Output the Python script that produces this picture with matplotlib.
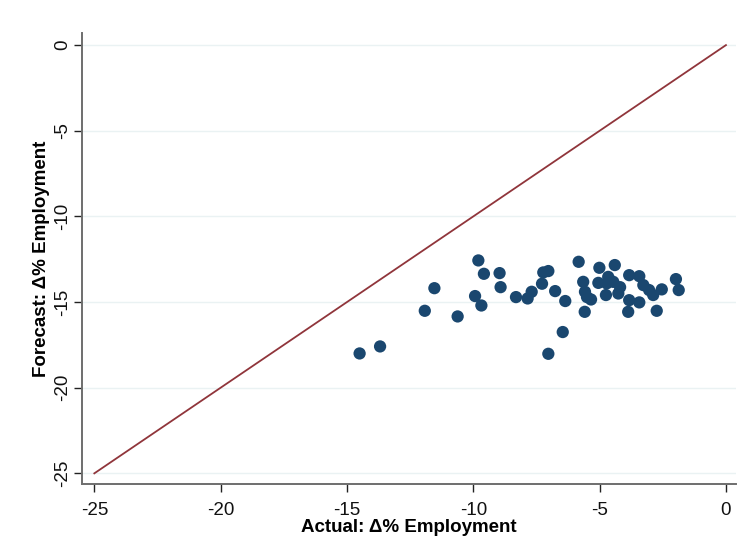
import matplotlib
matplotlib.use("Agg")
import matplotlib.pyplot as plt

plt.rcParams['font.family'] = ['Liberation Sans', 'DejaVu Sans']
plt.rcParams['axes.unicode_minus'] = False

actual = [-14.50, -13.69, -11.92, -11.54, -10.62, -9.80, -9.58, -9.93, -9.68, -8.96,
          -8.92, -8.31, -7.85, -7.69, -7.28, -7.23, -7.03, -6.76, -6.36, -6.46,
          -7.03, -5.83, -5.65, -5.58, -5.34, -5.59, -5.01, -5.05, -4.72, -4.75,
          -4.40, -4.66, -4.46, -4.26, -3.83, -3.43, -3.27, -3.04, -2.88, -2.54,
          -3.83, -3.87, -3.43, -2.74, -1.98, -1.87, -5.50, -4.19]
forecast = [-18.00, -17.59, -15.51, -14.19, -15.84, -12.57, -13.35, -14.65, -15.20, -13.31,
            -14.13, -14.71, -14.79, -14.40, -13.93, -13.27, -13.19, -14.36, -14.94, -16.75,
            -18.02, -12.65, -13.82, -14.40, -14.85, -15.57, -13.00, -13.88, -13.91, -14.59,
            -12.84, -13.53, -13.82, -14.50, -13.43, -13.49, -14.01, -14.30, -14.59, -14.26,
            -14.89, -15.57, -15.02, -15.51, -13.66, -14.30, -14.71, -14.13]
diag = [-25, 0]
ticks = [-25, -20, -15, -10, -5, 0]
tick_labels = ['-25', '-20', '-15', '-10', '-5', '0']

fig = plt.figure(figsize=(7.45, 5.52), dpi=100)
ax = fig.add_axes([0.1105, 0.1223, 0.8775, 0.8177])

for t in ticks:
    ax.axhline(t, color='#eaf2f3', lw=1.0, zorder=0)

ax.plot(diag, diag, color='#90353b', lw=1.3, zorder=2)
ax.scatter(actual, forecast, s=78, color='#1a476f', edgecolors='none', zorder=3)

ax.set_xlim(-25.475, 0.4)
ax.set_ylim(-25.65, 0.70)
ax.set_xticks(ticks)
ax.set_xticklabels(tick_labels)
ax.set_yticks(ticks)
ax.set_yticklabels(tick_labels, rotation=90, va='center')

for s in ['top', 'right']:
    ax.spines[s].set_visible(False)
for s in ['left', 'bottom']:
    ax.spines[s].set_color('#6e6e6e')
    ax.spines[s].set_linewidth(1.4)

ax.tick_params(axis='both', length=6, width=1.0, color='#222222', labelsize=13.5,
               labelcolor='#111111')
ax.tick_params(axis='x', pad=6.5)
ax.tick_params(axis='y', pad=2)

ax.set_xlabel('Actual: Δ% Employment', fontsize=13.5, fontweight='bold', labelpad=0)
ax.set_ylabel('Forecast: Δ% Employment', fontsize=13.5, fontweight='bold', labelpad=3)

fig.savefig('out.png', dpi=100, facecolor='white')
